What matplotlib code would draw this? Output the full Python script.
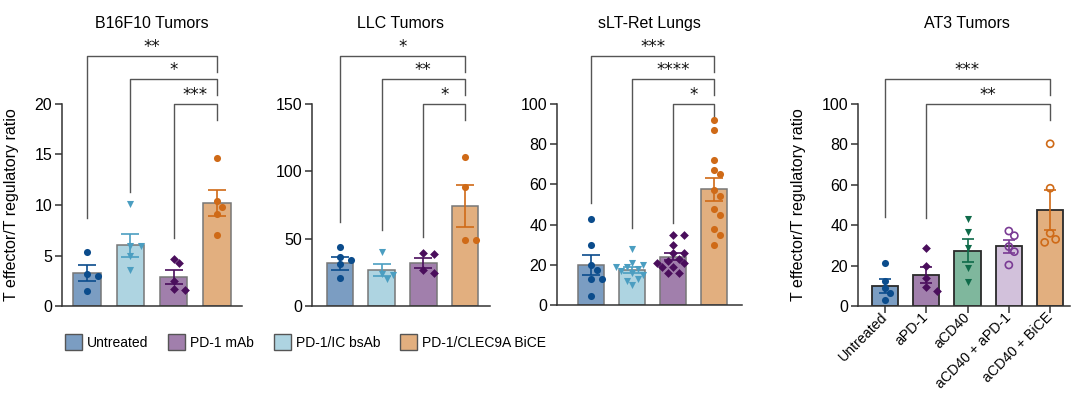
import matplotlib
matplotlib.use("Agg")
import matplotlib.pyplot as plt
import matplotlib.patches as mpatches
from matplotlib.transforms import blended_transform_factory

plt.rcParams["font.family"] = ["Liberation Sans", "DejaVu Sans"]

# colours
C_BLUE, D_BLUE = "#7B9DC2", "#0B4C8C"
C_LBLUE, D_LBLUE = "#AED4E1", "#4B9EC1"
C_PURP, D_PURP = "#A17FAC", "#4A0E5C"
C_ORNG, D_ORNG = "#E2AF7F", "#CF6A17"
C_GRN, D_GRN = "#7FB79D", "#0F6B4A"
C_LPURP, D_LPURP = "#D2C1DB", "#7A3B94"

# ---- data ----
groups_main = ["Untreated", "PD-1 mAb", "PD-1/IC bsAb", "PD-1/CLEC9A BiCE"]

# B16F10 tumors (order: untreated, IC bsAb, PD-1 mAb, BiCE)
b16_mean = [3.3, 6.0, 2.9, 10.2]
b16_sem = [0.8, 1.1, 0.7, 1.25]
b16_pts = [
    [5.3, 3.2, 3.0, 1.5],
    [10.1, 5.9, 5.9, 4.95, 3.6],
    [4.65, 4.3, 2.5, 1.55, 1.65],
    [14.7, 9.8, 10.4, 9.1, 7.0],
]

# LLC tumors
llc_mean = [31.7, 26.5, 32.0, 74.0]
llc_sem = [5.0, 4.5, 4.0, 15.5]
llc_pts = [
    [43.5, 36.5, 34.5, 31.0, 21.0],
    [40.0, 23.5, 23.0, 20.0],
    [38.4, 39.1, 24.3, 26.7],
    [111.0, 88.0, 49.0, 49.0],
]

# sLT-Ret lungs
slt_mean = [20.0, 17.2, 24.0, 57.5]
slt_sem = [5.0, 1.5, 1.7, 5.6]
slt_pts = [
    [43, 30, 20, 17.5, 13, 13, 4.6],
    [28, 21, 20, 19, 19, 18, 17, 16, 15, 13, 12, 10],
    [35, 35, 30, 26, 26, 23, 22, 21, 21, 19, 19, 16, 16],
    [92, 87, 72, 67, 65, 57, 54, 48, 45, 38, 35, 30],
]

# AT3 tumors
at3_labels = ["Untreated", "aPD-1", "aCD40", "aCD40 + aPD-1", "aCD40 + BiCE"]
at3_mean = [9.9, 15.4, 27.3, 29.5, 47.6]
at3_sem = [3.5, 4.0, 5.7, 3.2, 9.8]
at3_pts = [
    [21.4, 12.4, 8.7, 6.3, 3.0],
    [28.6, 19.8, 13.7, 7.6, 9.2],
    [42.9, 36.5, 28.6, 18.7, 12.0],
    [37.1, 34.8, 29.4, 26.9, 20.3],
    [80.3, 58.3, 36.0, 31.5, 33.0],
]

# comparisons: (i, j, stars, lowest end of left leg in data units)
b16_cmp = [(2, 3, "***", 6.7), (1, 3, "*", 11.3), (0, 3, "**", 8.7)]
llc_cmp = [(2, 3, "*", 51.2), (1, 3, "**", 56.4), (0, 3, "*", 62.4)]
slt_cmp = [(2, 3, "*", 40.8), (1, 3, "****", 38.3), (0, 3, "***", 50.7)]
at3_cmp = [(1, 4, "**", 43.6), (0, 4, "***", 44.0)]

main_bar = [C_BLUE, C_LBLUE, C_PURP, C_ORNG]
main_dot = [D_BLUE, D_LBLUE, D_PURP, D_ORNG]
main_mk = ["o", "v", "D", "o"]

at3_bar = [C_BLUE, C_PURP, C_GRN, C_LPURP, C_ORNG]
at3_dot = [D_BLUE, D_PURP, D_GRN, D_LPURP, D_ORNG]
at3_mk = ["o", "D", "v", "o", "o"]
at3_open = [False, False, False, True, True]

FS = 11.5
W, H = 1080, 394
fig = plt.figure(figsize=(W / 100, H / 100), dpi=100)


def make_ax(left, right, top, bottom):
    return fig.add_axes([left / W, (H - bottom) / H, (right - left) / W, (bottom - top) / H])


def swarm_x(ax, x0, vals, dmin=6.5, step=5.5):
    """simple beeswarm, offsets in pixels"""
    tr = ax.transData
    placed = []
    xs = [x0] * len(vals)
    order = sorted(range(len(vals)), key=lambda k: -vals[k])
    for k in order:
        px, py = tr.transform((x0, vals[k]))
        for n in range(40):
            off = ((n + 1) // 2) * step * (1 if n % 2 else -1)
            if all((px + off - qx) ** 2 + (py - qy) ** 2 >= dmin ** 2 for qx, qy in placed):
                break
        placed.append((px + off, py))
        xs[k] = tr.inverted().transform((px + off, py))[0]
    return xs


def draw_panel(ax, means, sems, pts, bar_cols, dot_cols, markers, edge, capsize,
               opens=None, lw_edge=1.1):
    x = list(range(len(means)))
    ax.bar(x, means, width=0.64, color=bar_cols, edgecolor=edge, linewidth=lw_edge, zorder=2)
    for i in x:
        xs = swarm_x(ax, i, pts[i])
        is_open = opens[i] if opens else False
        ax.scatter(xs, pts[i], s=26 if markers[i] != "D" else 20, marker=markers[i],
                   facecolors="none" if is_open else dot_cols[i],
                   edgecolors=dot_cols[i], linewidths=1.2 if is_open else 0,
                   zorder=4, clip_on=False)
        ax.errorbar(i, means[i], yerr=sems[i], color=dot_cols[i], capsize=capsize,
                    elinewidth=1.2, capthick=1.2, zorder=5)


def style(ax, ylim, yticks, xlim):
    ax.set_xlim(*xlim)
    ax.set_ylim(*ylim)
    ax.set_yticks(yticks)
    for s in ("top", "right"):
        ax.spines[s].set_visible(False)
    for s in ("left", "bottom"):
        ax.spines[s].set_color("#333333")
        ax.spines[s].set_linewidth(1.1)
    ax.tick_params(axis="y", length=5, width=1.1, color="#333333", labelsize=FS, pad=2)


def brackets(ax, cmps):
    tr = blended_transform_factory(ax.transData, ax.transAxes)
    levels = [1.0, 1.124, 1.238]
    for n, (i, j, stars, leg) in enumerate(cmps):
        y = levels[n]
        y_leg = ax.transLimits.transform((0, leg))[1]
        ax.plot([i, i, j, j], [y_leg, y, y, y - 0.08], transform=tr, clip_on=False,
                color="#555555", lw=1.0)
        ax.text((i + j) / 2, y + 0.045, stars, transform=tr, ha="center", va="center",
                fontsize=12, family="DejaVu Sans", color="#111111")


def title(ax, txt, xf=0.5):
    ax.text(xf, 1.40, txt, transform=ax.transAxes, ha="center", va="center", fontsize=FS)


ax1 = make_ax(62, 242, 104, 306)
style(ax1, (0, 20), [0, 5, 10, 15, 20], (-0.58, 3.58))
draw_panel(ax1, b16_mean, b16_sem, b16_pts, main_bar, main_dot, main_mk, "#777777", 6.5)
brackets(ax1, b16_cmp)
title(ax1, "B16F10 Tumors")
ax1.set_xticks([])
ax1.set_ylabel("T effector/T regulatory ratio", fontsize=FS, labelpad=11)

ax2 = make_ax(312, 490, 104, 306)
style(ax2, (0, 150), [0, 50, 100, 150], (-0.67, 3.6))
draw_panel(ax2, llc_mean, llc_sem, llc_pts, main_bar, main_dot, main_mk, "#777777", 6.5)
brackets(ax2, llc_cmp)
title(ax2, "LLC Tumors")
ax2.set_xticks([])

ax3 = make_ax(557, 742, 104, 305)
style(ax3, (0, 100), [0, 20, 40, 60, 80, 100], (-0.83, 3.68))
draw_panel(ax3, slt_mean, slt_sem, slt_pts, main_bar, main_dot, main_mk, "#777777", 6.5)
brackets(ax3, slt_cmp)
title(ax3, "sLT-Ret Lungs")
ax3.set_xticks([])

ax4 = make_ax(858, 1070, 104, 306)
style(ax4, (0, 100), [0, 20, 40, 60, 80, 100], (-0.65, 4.48))
draw_panel(ax4, at3_mean, at3_sem, at3_pts, at3_bar, at3_dot, at3_mk, "#2a2a2a", 4.5,
           opens=at3_open, lw_edge=1.3)
brackets(ax4, at3_cmp)
title(ax4, "AT3 Tumors", 0.514)
ax4.set_xticks(range(len(at3_labels)))
ax4.set_xticklabels(at3_labels, rotation=45, ha="right", va="center",
                    rotation_mode="anchor", fontsize=10.2)
ax4.tick_params(axis="x", length=5, width=1.1, color="#333333", pad=1.5)
ax4.set_ylabel("T effector/T regulatory ratio", fontsize=FS, labelpad=11)

# legend (order as in the figure)
leg_cols = [C_BLUE, C_PURP, C_LBLUE, C_ORNG]
handles = [mpatches.Patch(facecolor=c, edgecolor="#555555", linewidth=1.0, label=l)
           for c, l in zip(leg_cols, groups_main)]
fig.legend(handles=handles, ncol=4, loc="center left", bbox_to_anchor=(65 / W, 1 - 342 / H),
           frameon=False, fontsize=10, handlelength=1.25, handleheight=1.4,
           handletextpad=0.35, columnspacing=1.4, borderpad=0, borderaxespad=0)

fig.savefig("out.png", dpi=100)
